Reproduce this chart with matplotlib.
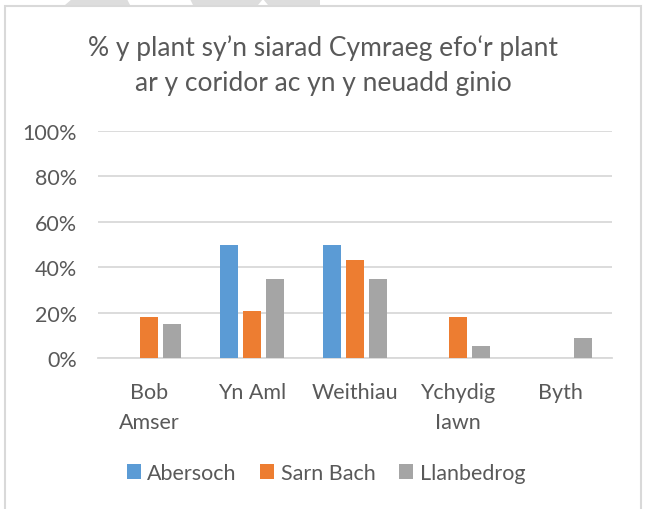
import numpy as np
import matplotlib.pyplot as plt
from matplotlib.patches import Polygon, Rectangle
from matplotlib.ticker import PercentFormatter

categories = ["Bob\nAmser", "Yn Aml", "Weithiau", "Ychydig\nIawn", "Byth"]
series = ["Abersoch", "Sarn Bach", "Llanbedrog"]
abersoch = [0, 50, 50, 0, 0]
sarn_bach = [18, 21, 43, 18, 0]
llanbedrog = [15, 35, 35, 5.5, 9]
colors = ["#5B9BD5", "#ED7D31", "#A5A5A5"]

TXT = "#595959"
plt.rcParams["font.family"] = ["Lato", "DejaVu Sans"]

W, H = 647, 510
fig = plt.figure(figsize=(W / 100, H / 100), dpi=100)

# chart frame and the grey shapes peeking in at the top
fig.patches.append(Rectangle((5 / W, -0.05), 636 / W, 1.05 - 7 / H, transform=fig.transFigure,
                             fill=False, edgecolor="#D9D9D9", linewidth=1.5))
for pts in ([(65, 6), (72, 0), (127, 0), (130, 6)],
            [(193, 6), (190, 0), (320, 0), (320, 6), (268, 6), (263, 0), (258, 6)]):
    fig.patches.append(Polygon([(x / W, 1 - y / H) for x, y in pts], closed=True,
                               transform=fig.transFigure, facecolor="#DDDDDD", edgecolor="none"))

ax = fig.add_axes([98 / W, 1 - 359.3 / H, 514 / W, 227.6 / H])

x = np.arange(len(categories))
width = 0.175
step = 0.222
for i, (name, vals) in enumerate(zip(series, [abersoch, sarn_bach, llanbedrog])):
    ax.bar(x + (i - 1) * step, vals, width, color=colors[i], label=name, zorder=3)

ax.set_xlim(-0.5, len(categories) - 0.5)
ax.set_ylim(0, 100)
ax.set_yticks(np.arange(0, 101, 20))
ax.yaxis.set_major_formatter(PercentFormatter(decimals=0))
ax.grid(axis="y", color="#D9D9D9", linewidth=1.3, zorder=0)
for s in ["top", "right", "left"]:
    ax.spines[s].set_visible(False)
ax.spines["bottom"].set_color("#D9D9D9")
ax.spines["bottom"].set_linewidth(1.3)
ax.tick_params(axis="both", length=0, colors=TXT, labelsize=15.5)
ax.tick_params(axis="y", pad=15)
ax.tick_params(axis="x", pad=17)
ax.set_xticks(x)
ax.set_xticklabels(categories, linespacing=1.6)

fig.text(323 / W, 1 - 48 / H, "% y plant sy’n siarad Cymraeg efo‘r plant",
         ha="center", va="center", fontsize=19, color=TXT)
fig.text(323 / W, 1 - 84 / H, "ar y coridor ac yn y neuadd ginio",
         ha="center", va="center", fontsize=19, color=TXT)

fig.legend(loc="center", bbox_to_anchor=(326 / W, 1 - 474 / H), ncol=3, frameon=False,
           fontsize=15.5, labelcolor=TXT, handlelength=0.65, handleheight=0.65,
           handletextpad=0.3, columnspacing=1.1)

fig.savefig("out.png", dpi=100, facecolor="white")
